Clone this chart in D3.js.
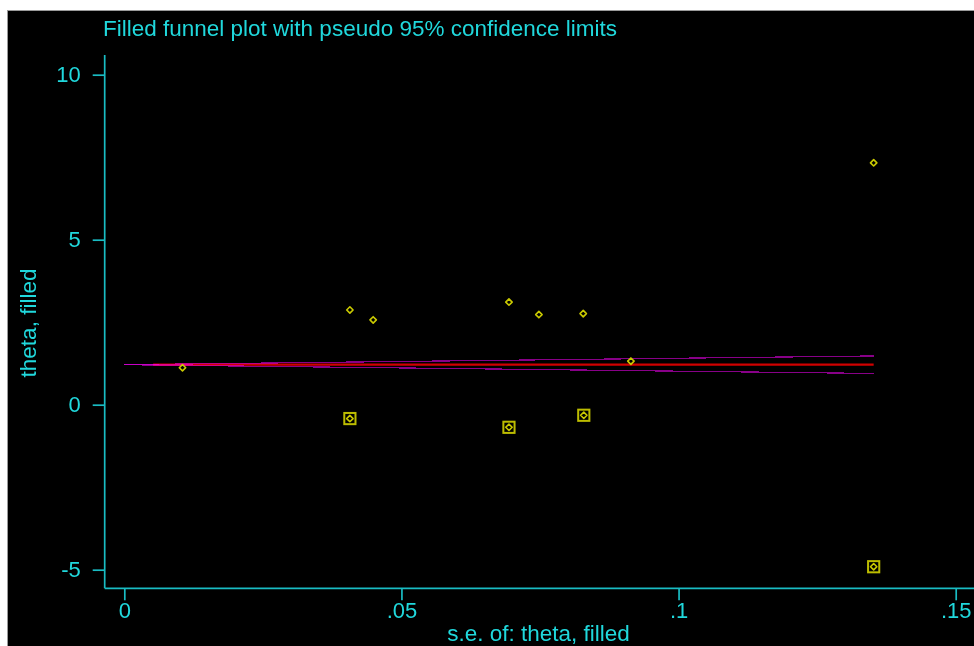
<!DOCTYPE html>
<html>

<head>
  <meta charset="utf-8">
  <title>Filled funnel plot</title>
  <style>
    body {
      margin: 0;
      background-color: #ffffff;
      font-family: 'Liberation Sans', Arial, sans-serif;
    }

    text {
      fill: #20d8dc;
    }

    .tick line {
      stroke: #19bcc3;
      stroke-width: 1.7px;
    }
  </style>
</head>

<body>
  <div id="chart"></div>

  <script src="https://cdn.jsdelivr.net/npm/d3@7"></script>
  <script>
    // observed studies
    var seObs = [0.0105, 0.0407, 0.0449, 0.0694, 0.0748, 0.0828, 0.0914, 0.1352];
    var thetaObs = [1.12, 2.87, 2.57, 3.11, 2.73, 2.76, 1.32, 7.33];

    // filled (imputed) studies
    var seFill = [0.0407, 0.0694, 0.0829, 0.1352];
    var thetaFill = [-0.42, -0.685, -0.32, -4.91];

    // pooled estimate and pseudo 95% limits (line end points)
    var pooledSe = [0.0052, 0.1352];
    var pooledTheta = [1.212, 1.212];
    var limitSe = [0, 0.1352];
    var upperTheta = [1.212, 1.477];
    var lowerTheta = [1.212, 0.947];

    var xTicks = [0, 0.05, 0.1, 0.15];
    var xTickLabels = ["0", ".05", ".1", ".15"];
    var yTicks = [-5, 0, 5, 10];
    var yTickLabels = ["-5", "0", "5", "10"];

    var width = 974,
      height = 646;

    var axisColor = "#19bcc3";

    var x = d3.scaleLinear()
      .domain([0, 0.15])
      .range([124.3, 955.7]);

    var y = d3.scaleLinear()
      .domain([-5, 10])
      .range([569.7, 74.7]);

    var svg = d3.select("#chart").append("svg")
      .attr("width", width)
      .attr("height", height);

    // black plot region with the white margin on top and left
    svg.append("rect")
      .attr("x", 7.5)
      .attr("y", 10.5)
      .attr("width", width)
      .attr("height", height)
      .style("fill", "#000")
      .style("stroke", "#9a9a9a");

    svg.append("text")
      .attr("x", 103)
      .attr("y", 36)
      .style("font-size", "22.5px")
      .text("Filled funnel plot with pseudo 95% confidence limits");

    // axis lines
    svg.append("line")
      .attr("x1", 104.7).attr("x2", 104.7)
      .attr("y1", 55).attr("y2", 588.3)
      .style("stroke", axisColor)
      .style("stroke-width", 1.7);

    svg.append("line")
      .attr("x1", 104.7).attr("x2", width)
      .attr("y1", 588.3).attr("y2", 588.3)
      .style("stroke", axisColor)
      .style("stroke-width", 1.7);

    svg.append("g")
      .attr("transform", "translate(0,588.3)")
      .call(d3.axisBottom(x)
        .tickValues(xTicks)
        .tickSize(12)
        .tickPadding(2)
        .tickFormat(function(d, i) {
          return xTickLabels[i];
        }))
      .call(function(g) {
        g.select(".domain").remove();
      })
      .selectAll("text")
      .style("font-size", "22px")
      .style("font-family", "'Liberation Sans', Arial, sans-serif");

    svg.append("g")
      .attr("transform", "translate(104.7,0)")
      .call(d3.axisLeft(y)
        .tickValues(yTicks)
        .tickSize(12)
        .tickPadding(12)
        .tickFormat(function(d, i) {
          return yTickLabels[i];
        }))
      .call(function(g) {
        g.select(".domain").remove();
      })
      .selectAll("text")
      .style("font-size", "22px")
      .style("font-family", "'Liberation Sans', Arial, sans-serif");

    svg.append("text")
      .attr("x", 538.5)
      .attr("y", 641)
      .attr("text-anchor", "middle")
      .style("font-size", "22.5px")
      .text("s.e. of: theta, filled");

    svg.append("text")
      .attr("transform", "translate(36,323) rotate(-90)")
      .attr("text-anchor", "middle")
      .style("font-size", "22.5px")
      .text("theta, filled");

    // funnel lines
    var line = d3.line()
      .x(function(d) { return x(d[0]); })
      .y(function(d) { return y(d[1]); });

    svg.append("path")
      .attr("d", line(d3.zip(pooledSe, pooledTheta)))
      .style("fill", "none")
      .style("stroke", "#d00000")
      .style("stroke-width", 2.2);

    [upperTheta, lowerTheta].forEach(function(t) {
      svg.append("path")
        .attr("d", line(d3.zip(limitSe, t)))
        .style("fill", "none")
        .style("stroke", "#880088")
        .style("stroke-width", 1.2)
        .style("shape-rendering", "crispEdges")
        .style("mix-blend-mode", "screen");
    });

    // markers
    svg.selectAll("rect.filled")
      .data(d3.zip(seFill, thetaFill))
      .enter().append("rect")
      .attr("class", "filled")
      .attr("x", function(d) { return x(d[0]) - 5.6; })
      .attr("y", function(d) { return y(d[1]) - 5.6; })
      .attr("width", 11.2)
      .attr("height", 11.2)
      .style("fill", "none")
      .style("stroke", "#bcbc00")
      .style("stroke-width", 2);

    svg.selectAll("path.marker")
      .data(d3.zip(seObs, thetaObs).concat(d3.zip(seFill, thetaFill)))
      .enter().append("path")
      .attr("class", "marker")
      .attr("d", d3.symbol().type(d3.symbolDiamond2).size(26))
      .attr("transform", function(d) {
        return "translate(" + x(d[0]) + "," + y(d[1]) + ")";
      })
      .style("fill", "none")
      .style("stroke", "#caca00")
      .style("stroke-width", 1.6)
      .style("stroke-linejoin", "round");
  </script>
</body>

</html>
